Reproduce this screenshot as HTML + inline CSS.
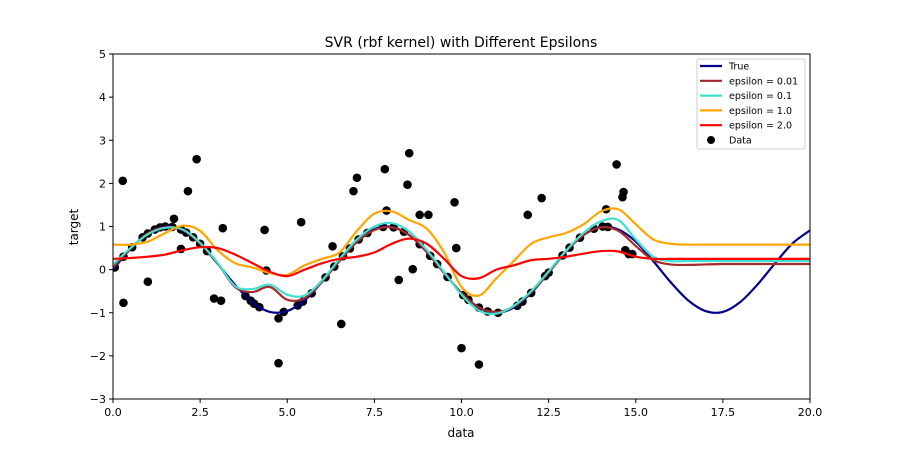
<!DOCTYPE html>
<html><head><meta charset="utf-8"><style>
html,body{margin:0;padding:0;background:#fff;}
svg{display:block;font-family:"DejaVu Sans","Liberation Sans",sans-serif;}
</style></head><body>
<svg id="chart" width="900" height="450" viewBox="0 0 900 450">
<rect x="0" y="0" width="900" height="450" fill="#fff"/>
<text x="461" y="47" text-anchor="middle" font-size="14">SVR (rbf kernel) with Different Epsilons</text>
<g id="plot"></g>
<g id="axes"></g>
<text x="461" y="437" text-anchor="middle" font-size="12">data</text>
<text x="0" y="0" transform="translate(78,227) rotate(-90)" text-anchor="middle" font-size="12">target</text>
<g id="legend"></g>
</svg>
<script>
const gridX = [0,0.5,1,1.5,2,2.5,3,3.5,4,4.5,5,5.5,6,6.5,7,7.5,8,8.5,9,9.5,10,10.5,11,11.5,12,12.5,13,13.5,14,14.5,15,15.5,16,16.5,17,17.5,18,18.5,19,19.5,20];
const trueY = [0,.48,.84,1.0,.91,.60,.14,-.35,-.76,-.98,-.96,-.71,-.28,.22,.66,.94,.99,.80,.41,-.08,-.54,-.88,-1.0,-.88,-.54,-.07,.42,.80,.99,.93,.65,.20,-.29,-.71,-.96,-.98,-.75,-.34,.15,.61,.91];
const eps001Y = [0.05,.48,.84,.98,.92,.60,.15,-.4,-.52,-.4,-.7,-.66,-.28,.2,.64,.92,.98,.8,.42,-.08,-.54,-.88,-.98,-.86,-.52,-.07,.42,.8,.98,.9,.55,.22,.12,.11,.12,.13,.13,.13,.13,.13,.13];
const eps01Y = [0.12,.5,.82,.97,.93,.62,.16,-.38,-.45,-.35,-.58,-.6,-.25,.25,.7,1.0,1.08,.88,.46,-.06,-.58,-.95,-1.02,-.84,-.5,-.04,.44,.85,1.12,1.15,.7,.3,.2,.2,.2,.2,.2,.2,.2,.2,.2];
const eps1Y = [.58,.58,.65,.85,1.02,.9,.45,.15,.05,-.08,-.12,.1,.25,.4,.9,1.3,1.35,1.15,.95,.4,-.4,-.6,-.2,.2,.6,.75,.85,1.05,1.35,1.4,1.05,.7,.6,.58,.58,.58,.58,.58,.58,.58,.58];
const eps2Y = [.25,.27,.3,.35,.45,.52,.5,.35,.15,-.05,-.15,0,.15,.25,.3,.4,.6,.72,.6,.25,-.15,-.2,0,.1,.22,.25,.3,.37,.43,.42,.3,.25,.25,.25,.25,.25,.25,.25,.25,.25,.25];
const dataX = [0.05,0.3,0.55,0.85,1.0,1.2,1.35,1.5,1.7,1.95,2.1,2.3,2.5,2.7,3.8,3.95,4.05,4.2,4.9,5.3,5.45,5.7,6.1,6.35,6.6,6.8,7.05,7.3,7.75,8.05,8.35,8.8,9.1,9.3,9.6,10.05,10.2,10.5,10.75,11.05,11.6,11.75,12.0,12.4,12.5,12.9,13.1,13.4,13.8,14.05,14.2,14.9,
 0.28,0.3,1.0,1.75,1.95,2.15,2.4,2.9,3.1,3.15,4.35,4.4,4.75,4.75,5.4,6.3,6.55,6.9,7.0,7.8,7.85,8.2,8.45,8.5,8.6,8.8,9.05,9.8,9.85,10.0,10.5,11.9,12.3,14.45,14.65,14.62,14.7,14.8,14.15];
const dataY = [0.05,0.30,0.52,0.75,0.84,0.93,0.98,1.00,0.99,0.93,0.86,0.75,0.60,0.43,-0.61,-0.72,-0.79,-0.87,-0.98,-0.83,-0.74,-0.55,-0.18,0.07,0.31,0.49,0.70,0.85,0.99,0.98,0.88,0.59,0.32,0.13,-0.17,-0.59,-0.70,-0.88,-0.97,-1.00,-0.84,-0.74,-0.54,-0.15,-0.07,0.33,0.51,0.74,0.95,1.00,0.99,0.36,
 2.06,-0.77,-0.28,1.18,0.48,1.82,2.56,-0.67,-0.72,0.96,0.92,-0.02,-2.17,-1.13,1.1,0.54,-1.26,1.82,2.13,2.33,1.37,-0.24,1.97,2.7,0.01,1.27,1.27,1.56,0.5,-1.82,-2.2,1.27,1.66,2.44,1.8,1.68,0.45,0.36,1.4];
const xTicks = [0,2.5,5,7.5,10,12.5,15,17.5,20];
const xTickLabels = ["0.0","2.5","5.0","7.5","10.0","12.5","15.0","17.5","20.0"];
const yTicks = [-3,-2,-1,0,1,2,3,4,5];
const yTickLabels = ["−3","−2","−1","0","1","2","3","4","5"];

const L=113,R=810,T=54,B=399;
const sx=v=>L+(v-0)/(20-0)*(R-L);
const sy=v=>B-(v-(-3))/(8)*(B-T);
const NS="http://www.w3.org/2000/svg";
function mk(tag,attrs,parent){const e=document.createElementNS(NS,tag);for(const k in attrs)e.setAttribute(k,attrs[k]);parent.appendChild(e);return e;}
function smoothPath(xs,ys){
  const p=xs.map((x,i)=>[sx(x),sy(ys[i])]);
  let d="M"+p[0][0].toFixed(2)+","+p[0][1].toFixed(2);
  for(let i=0;i<p.length-1;i++){
    const p0=p[Math.max(0,i-1)],p1=p[i],p2=p[i+1],p3=p[Math.min(p.length-1,i+2)];
    const c1=[p1[0]+(p2[0]-p0[0])/6,p1[1]+(p2[1]-p0[1])/6];
    const c2=[p2[0]-(p3[0]-p1[0])/6,p2[1]-(p3[1]-p1[1])/6];
    d+=" C"+c1.map(v=>v.toFixed(2)).join(",")+" "+c2.map(v=>v.toFixed(2)).join(",")+" "+p2[0].toFixed(2)+","+p2[1].toFixed(2);
  }
  return d;
}
const plot=document.getElementById('plot');
const axes=document.getElementById('axes');
const defs=mk('defs',{},plot);
const cp=mk('clipPath',{id:'clip'},defs);
mk('rect',{x:L,y:T,width:R-L,height:B-T},cp);
const cg=mk('g',{'clip-path':'url(#clip)'},plot);


for(let i=0;i<dataX.length;i++){
  const c=mk('circle',{cx:sx(dataX[i]),cy:sy(dataY[i]),r:4.3,fill:'#000'},cg);
  
  
}
const series=[
  ['true-line',trueY,'#00008b'],
  ['epsilon-0.01-line',eps001Y,'#a52a2a'],
  ['epsilon-0.1-line',eps01Y,'#40e0d0'],
  ['epsilon-1.0-line',eps1Y,'#ffa500'],
  ['epsilon-2.0-line',eps2Y,'#ff0000']
];
series.forEach(s=>{
  const p=mk('path',{d:smoothPath(gridX,s[1]),fill:'none',stroke:s[2],'stroke-width':2.2},cg);
  
  
});
const fr=mk('rect',{x:L,y:T,width:R-L,height:B-T,fill:'none',stroke:'#000','stroke-width':1},axes);


xTicks.forEach((v,i)=>{
  const t=mk('line',{x1:sx(v),x2:sx(v),y1:B,y2:B+4,stroke:'#000'},axes);
  
  
  const tx=mk('text',{x:sx(v),y:B+17,'text-anchor':'middle','font-size':11},axes);
  tx.textContent=xTickLabels[i];
  
  
});
yTicks.forEach((v,i)=>{
  const t=mk('line',{x1:L-4,x2:L,y1:sy(v),y2:sy(v),stroke:'#000'},axes);
  
  
  const tx=mk('text',{x:L-7,y:sy(v)+4,'text-anchor':'end','font-size':11},axes);
  tx.textContent=yTickLabels[i];
  
  
});
const lg=document.getElementById('legend');
const lb=mk('rect',{x:697,y:59,width:108,height:90,fill:'#fff','fill-opacity':0.8,stroke:'#ccc',rx:2},lg);


const entries=[['True','#00008b'],['epsilon = 0.01','#a52a2a'],['epsilon = 0.1','#40e0d0'],['epsilon = 1.0','#ffa500'],['epsilon = 2.0','#ff0000'],['Data',null]];
entries.forEach((e,i)=>{
  const y=66+i*14.8;
  if(e[1]){
    const l=mk('line',{x1:700,x2:722,y1:y,y2:y,stroke:e[1],'stroke-width':2.2},lg);
    
    
  } else {
    const c=mk('circle',{cx:711,cy:y,r:4,fill:'#000'},lg);
    
    
  }
  const t=mk('text',{x:729,y:y+3.5,'font-size':9.5},lg);
  t.textContent=e[0];
  
  
});
</script>
</body></html>
